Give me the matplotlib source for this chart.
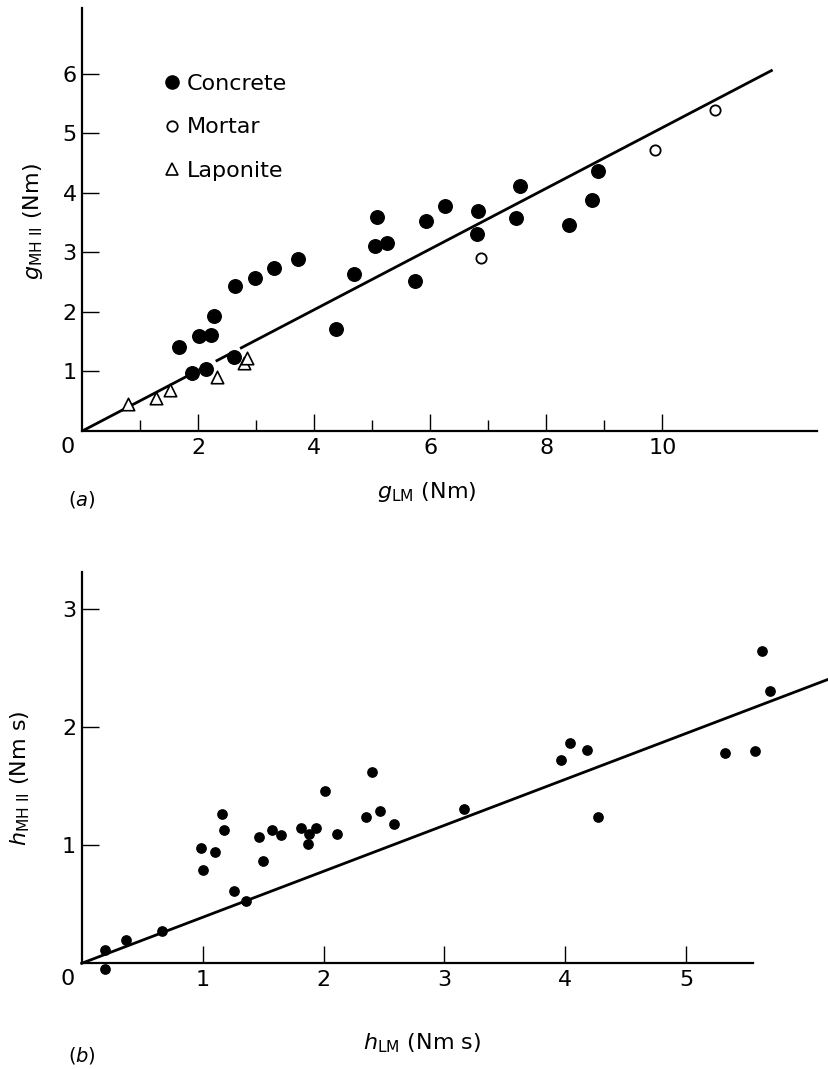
import numpy as np
import matplotlib
matplotlib.use("Agg")
import matplotlib.pyplot as plt
from matplotlib.lines import Line2D

plt.rcParams['font.family'] = ['DejaVu Sans']
plt.rcParams['mathtext.fontset'] = 'dejavusans'

# ---------------- data: panel (a) ----------------
concrete_x = [1.67, 1.89, 2.01, 2.21, 2.14, 2.27, 2.63, 2.62, 2.97, 3.31, 3.72,
              4.37, 4.69, 5.08, 5.05, 5.25, 5.74, 5.92, 6.26, 6.82, 6.81,
              7.55, 7.48, 8.39, 8.79, 8.89]
concrete_y = [1.41, 0.97, 1.59, 1.61, 1.04, 1.93, 2.43, 1.25, 2.56, 2.73, 2.88,
              1.72, 2.63, 3.59, 3.11, 3.16, 2.52, 3.52, 3.77, 3.69, 3.31,
              4.11, 3.57, 3.46, 3.88, 4.37]
mortar_x = [6.88, 9.87, 10.9]
mortar_y = [2.91, 4.72, 5.38]
laponite_x = [0.78, 1.27, 1.51, 2.32, 2.79, 2.84]
laponite_y = [0.46, 0.55, 0.69, 0.91, 1.14, 1.22]
fit_a_x = [0.0, 11.9]
fit_a_y = [0.0, 6.06]
fit_a_solid = [(0.0, 2.15), (2.72, 11.9)]
fit_a_dash = [(2.3, 2.58)]
xticks_a = [2, 4, 6, 8, 10]
xminor_a = [1, 3, 5, 7, 9]
yticks_a = [1, 2, 3, 4, 5, 6]

# ---------------- data: panel (b) ----------------
h_lm = [0.19, 0.19, 0.37, 0.66, 0.99, 1.00, 1.10, 1.16, 1.18, 1.26, 1.36,
        1.47, 1.50, 1.57, 1.65, 1.81, 1.87, 1.88, 1.94, 2.01, 2.11,
        2.35, 2.40, 2.47, 2.58, 3.16, 3.96, 4.04, 4.18, 4.27, 5.32,
        5.57, 5.63, 5.69]
h_mh = [0.11, -0.05, 0.20, 0.27, 0.98, 0.79, 0.94, 1.27, 1.13, 0.61, 0.53,
        1.07, 0.87, 1.13, 1.09, 1.15, 1.01, 1.10, 1.15, 1.46, 1.10,
        1.24, 1.62, 1.29, 1.18, 1.31, 1.72, 1.87, 1.81, 1.24, 1.78,
        1.80, 2.65, 2.31]
fit_b_x = [0.0, 6.18]
fit_b_y = [0.0, 2.41]
xticks_b = [1, 2, 3, 4, 5]
yticks_b = [1, 2, 3]

W, H = 829, 1069
fig = plt.figure(figsize=(W / 100, H / 100), dpi=100)

FS = 16
LW_AX = 1.6


def style_axes(ax, xend, yend):
    for s in ('top', 'right'):
        ax.spines[s].set_visible(False)
    ax.spines['left'].set_linewidth(LW_AX)
    ax.spines['bottom'].set_linewidth(LW_AX)
    ax.spines['bottom'].set_bounds(0, xend)
    ax.spines['left'].set_bounds(0, yend)
    ax.tick_params(which='major', direction='in', length=12, width=1.0,
                   labelsize=FS, pad=5)
    ax.tick_params(which='minor', direction='in', length=8, width=1.0)
    ax.tick_params(axis='y', which='major', pad=4)


# ---------------- panel (a) ----------------
ax1 = fig.add_axes([82.3 / W, 1 - 431 / H, 734.4 / W, 423 / H])
ax1.set_xlim(0, 12.66)
ax1.set_ylim(0, 7.1)
style_axes(ax1, 12.66, 7.1)
ax1.set_xticks(xticks_a)
ax1.set_xticks(xminor_a, minor=True)
ax1.set_yticks(yticks_a)

for a, b in fit_a_solid + fit_a_dash:
    xs = [a, b]
    ys = list(np.interp(xs, fit_a_x, fit_a_y))
    ax1.plot(xs, ys, color='black', lw=2.0, solid_capstyle='butt')

ax1.scatter(concrete_x, concrete_y, s=95, color='black', zorder=3, clip_on=False)
ax1.scatter(mortar_x, mortar_y, s=55, facecolor='white', edgecolor='black',
            linewidth=1.3, zorder=3)
ax1.scatter(laponite_x, laponite_y, s=80, marker='^', facecolor='white',
            edgecolor='black', linewidth=1.2, zorder=3)

handles = [
    Line2D([], [], ls='none', marker='o', ms=9.5, color='black'),
    Line2D([], [], ls='none', marker='o', ms=7.5, mfc='white', mec='black', mew=1.3),
    Line2D([], [], ls='none', marker='^', ms=9, mfc='white', mec='black', mew=1.2),
]
ax1.legend(handles, ['Concrete', 'Mortar', 'Laponite'], loc='upper left',
           bbox_to_anchor=((162.8 - 82.3) / 734.4, (431 - 74) / 423),
           frameon=False, fontsize=FS, handlelength=0.8, handletextpad=0.27,
           labelspacing=1.05, borderpad=0, borderaxespad=0)

ax1.annotate('0', xy=(0, 0), xycoords='data', xytext=(-14.3, -16),
             textcoords='offset pixels', ha='center', va='center', fontsize=FS)
fig.text(427 / W, 1 - 492 / H, r'$g_{\mathregular{LM}}$ (Nm)', ha='center',
         va='center', fontsize=FS)
fig.text(33 / W, 1 - 222 / H, r'$g_{\mathregular{MH\ II}}$ (Nm)', ha='center',
         va='center', rotation=90, fontsize=FS)
fig.text(82 / W, 1 - 500 / H, r'($a$)', ha='center', va='center', fontsize=FS - 2)

# ---------------- panel (b) ----------------
ax2 = fig.add_axes([81.7 / W, 1 - 963.3 / H, (W - 81.7) / W, 391.6 / H])
ax2.set_xlim(0, 6.18)
ax2.set_ylim(0, 3.32)
style_axes(ax2, 5.55, 3.32)
ax2.set_xticks(xticks_b)
ax2.set_yticks(yticks_b)

ax2.plot(fit_b_x, fit_b_y, color='black', lw=2.0, clip_on=False)
ax2.scatter(h_lm, h_mh, s=45, color='black', zorder=3, clip_on=False)

ax2.annotate('0', xy=(0, 0), xycoords='data', xytext=(-14, -16),
             textcoords='offset pixels', ha='center', va='center', fontsize=FS)
fig.text(422 / W, 1 - 1043 / H, r'$h_{\mathregular{LM}}$ (Nm s)', ha='center',
         va='center', fontsize=FS)
fig.text(20 / W, 1 - 778 / H, r'$h_{\mathregular{MH\ II}}$ (Nm s)', ha='center',
         va='center', rotation=90, fontsize=FS)
fig.text(82 / W, 1 - 1055 / H, r'($b$)', ha='center', va='center', fontsize=FS - 2)

fig.savefig('out.png', dpi=100)
